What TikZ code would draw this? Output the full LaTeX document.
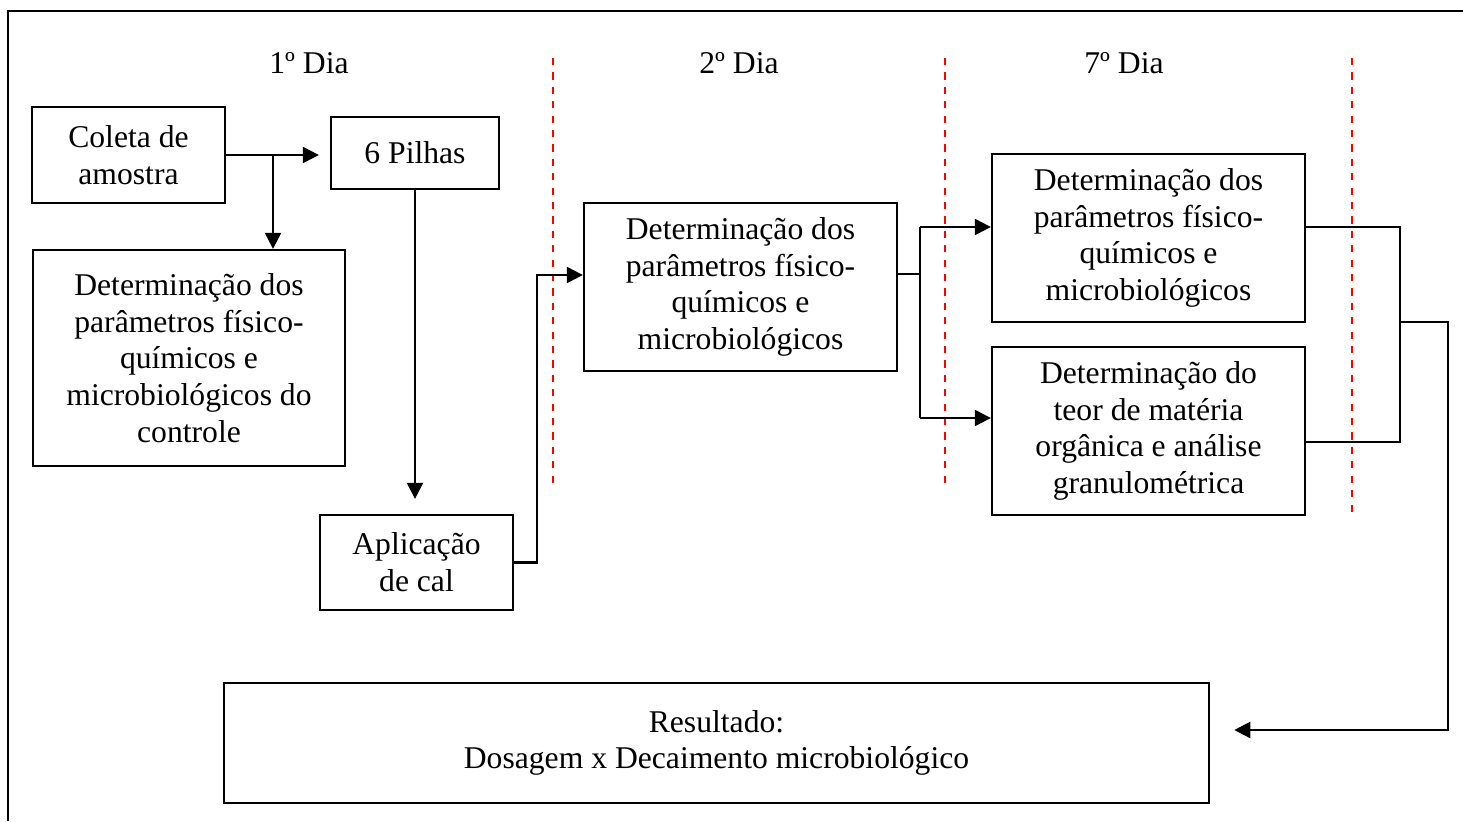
\documentclass[tikz,border=0pt]{standalone}
\usepackage{fontspec}
\setmainfont{Liberation Serif}
\usetikzlibrary{arrows.meta}
\definecolor{divred}{RGB}{255,0,0}
\tikzstyle{etapa} = [rectangle, draw=black, line width=1.6pt, align=center, font=\fontsize{22.5}{26.1}\selectfont]
\tikzstyle{dia} = [font=\fontsize{22.5}{26.1}\selectfont]
\tikzstyle{line} = [line width=1.6pt]
\tikzstyle{arrow} = [line width=1.6pt,->,>={Triangle[length=0.4cm,width=0.4cm]}]
\tikzstyle{divisa} = [draw=divred, line width=1.6pt, dash pattern=on 0.18cm off 0.18cm]

\begin{document}
\begin{tikzpicture}
[x=0.025cm, y=-0.025cm]
\useasboundingbox (0,0) rectangle (1463,821);

% moldura
\draw [line] (1463,11) -- (8,11) -- (8,821);

% dias
\node (dia1) [dia] at (309,63) {1º Dia};
\node (dia2) [dia] at (739,63) {2º Dia};
\node (dia7) [dia] at (1124,63) {7º Dia};

\draw [divisa] (553,58) -- (553,485);
\draw [divisa] (945,58) -- (945,485);
\draw [divisa] (1352,58) -- (1352,513);

% etapas
\node (coleta) [etapa, minimum width=4.825cm, minimum height=2.4cm] at (128.5,155) {Coleta de\\amostra};
\node (pilhas) [etapa, minimum width=4.2cm, minimum height=1.8cm] at (415,153) {6 Pilhas};
\node (controle) [etapa, minimum width=7.8cm, minimum height=5.4cm] at (189,358) {Determinação dos\\parâmetros físico-\\químicos e\\microbiológicos do\\controle};
\node (aplicacao) [etapa, minimum width=4.825cm, minimum height=2.375cm] at (416.5,562.5) {Aplicação\\de cal};
\node (meio) [etapa, minimum width=7.825cm, minimum height=4.2cm] at (740.5,287) {Determinação dos\\parâmetros físico-\\químicos e\\microbiológicos};
\node (fq) [etapa, minimum width=7.825cm, minimum height=4.2cm] at (1148.5,238) {Determinação dos\\parâmetros físico-\\químicos e\\microbiológicos};
\node (mo) [etapa, minimum width=7.825cm, minimum height=4.2cm] at (1148.5,431) {Determinação do\\teor de matéria\\orgânica e análise\\granulométrica};
\node (resultado) [etapa, minimum width=24.625cm, minimum height=3cm] at (716.5,743) {Resultado:\\Dosagem x Decaimento microbiológico};

% ligacoes
\coordinate (b1) at (273,155);
\draw [arrow, shorten >=0.275cm] (coleta.east) -- (coleta.east -| pilhas.west);
\draw [arrow] (b1) -- (b1 |- controle.north);
\draw [arrow, shorten >=0.375cm] (pilhas.south) -- (pilhas.south |- aplicacao.north);

\coordinate (c1) at (537,275);
\draw [arrow] (aplicacao.east) -| (c1) -- (c1 -| meio.west);

\coordinate (c2) at (920,274);
\coordinate (c2a) at (920,227);
\coordinate (c2b) at (920,418);
\draw [line] (meio.east |- c2) -- (c2);
\draw [line] (c2a) -- (c2b);
\draw [arrow] (c2a) -- (c2a -| fq.west);
\draw [arrow] (c2b) -- (c2b -| mo.west);

\coordinate (m1) at (1400,227);
\coordinate (m2) at (1400,442);
\coordinate (m3) at (1400,322);
\coordinate (m4) at (1448,322);
\coordinate (m5) at (1448,730);
\draw [line] (fq.east |- m1) -- (m1) -- (m2) -- (mo.east |- m2);
\draw [arrow, shorten >=0.6cm] (m3) -- (m4) -- (m5) -- (m5 -| resultado.east);

\end{tikzpicture}
\end{document}
